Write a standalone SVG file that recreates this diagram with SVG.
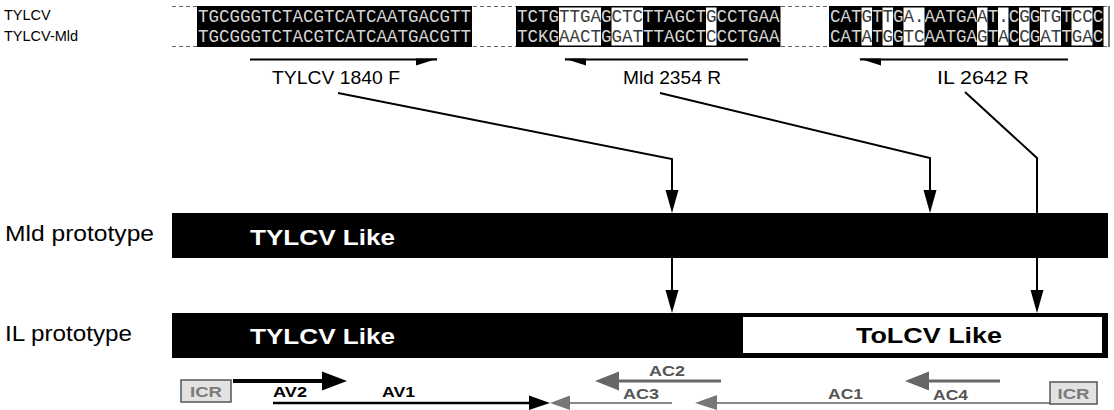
<svg xmlns="http://www.w3.org/2000/svg" width="1114" height="410" viewBox="0 0 1114 410">
<style>
.seq{font-family:"Liberation Mono","DejaVu Sans Mono",monospace;font-size:17.5px}
.b{fill:#d4d4d4}.w{fill:#3a3a3a}
.lab{font-family:"Liberation Sans",Arial,sans-serif;fill:#000}
.bold{font-weight:bold}
.dash{stroke:#666;stroke-width:1.2;stroke-dasharray:4 3;fill:none}
.conn{stroke:#000;stroke-width:2;fill:none}
.blk{fill:#000}
.cell{fill:#fff}
.gl{fill:#555;font-family:"Liberation Sans",Arial,sans-serif;font-weight:bold}
.icr{fill:#e2e2e2;stroke:#555;stroke-width:1.5}
.icrt{fill:#7a7a7a;font-family:"Liberation Sans",Arial,sans-serif;font-weight:bold;font-size:15px}
</style>
<rect width="1114" height="410" fill="#fff"/>

<g id="alignment">
  <text class="lab" x="4" y="20" font-size="14.5">TYLCV</text>
  <text class="lab" x="4" y="41" font-size="14.5">TYLCV-Mld</text>
  <line class="dash" x1="172" y1="6.5" x2="1108" y2="6.5"/>
  <line class="dash" x1="172" y1="46.5" x2="1108" y2="46.5"/>
  <line x1="1109" y1="6" x2="1109" y2="47" stroke="#444" stroke-width="1.5"/>
  <!-- block 1 -->
  <rect class="blk" x="197" y="6" width="275" height="41"/>
  <text class="seq b" x="198" y="21.5">TGCGGGTCTACGTCATCAATGACGTT</text>
  <text class="seq b" x="198" y="42">TGCGGGTCTACGTCATCAATGACGTT</text>
  <!-- block 2 -->
  <rect class="blk" x="516" y="6" width="264.5" height="41"/>
  <rect class="cell" x="559" y="7.5" width="42" height="38"/>
  <rect class="cell" x="611.5" y="7.5" width="31.5" height="38"/>
  <rect class="cell" x="706" y="7.5" width="10.5" height="38"/>
  <text class="seq" x="517" y="21.5"><tspan class="b">TCTG</tspan><tspan class="w">TTGA</tspan><tspan class="b">G</tspan><tspan class="w">CTC</tspan><tspan class="b">TTAGCT</tspan><tspan class="w">G</tspan><tspan class="b">CCTGAA</tspan></text>
  <text class="seq" x="517" y="42"><tspan class="b">TCKG</tspan><tspan class="w">AACT</tspan><tspan class="b">G</tspan><tspan class="w">GAT</tspan><tspan class="b">TTAGCT</tspan><tspan class="w">C</tspan><tspan class="b">CCTGAA</tspan></text>
  <!-- block 3 -->
  <rect class="blk" x="829" y="6" width="274.5" height="41"/>
  <rect class="cell" x="861.5" y="7.5" width="10.5" height="38"/>
  <rect class="cell" x="882.5" y="7.5" width="10.5" height="38"/>
  <rect class="cell" x="903.5" y="7.5" width="21" height="38"/>
  <rect class="cell" x="977" y="7.5" width="10.5" height="38"/>
  <rect class="cell" x="998" y="7.5" width="10.5" height="38"/>
  <rect class="cell" x="1019" y="7.5" width="10.5" height="38"/>
  <rect class="cell" x="1040" y="7.5" width="21" height="38"/>
  <rect class="cell" x="1071.5" y="7.5" width="21" height="38"/>
  <text class="seq" x="830" y="21.5"><tspan class="b">CAT</tspan><tspan class="w">G</tspan><tspan class="b">T</tspan><tspan class="w">T</tspan><tspan class="b">G</tspan><tspan class="w">A.</tspan><tspan class="b">AATGA</tspan><tspan class="w">A</tspan><tspan class="b">T</tspan><tspan class="w">.</tspan><tspan class="b">C</tspan><tspan class="w">G</tspan><tspan class="b">G</tspan><tspan class="w">TG</tspan><tspan class="b">T</tspan><tspan class="w">CC</tspan><tspan class="b">C</tspan></text>
  <text class="seq" x="830" y="42"><tspan class="b">CAT</tspan><tspan class="w">A</tspan><tspan class="b">T</tspan><tspan class="w">G</tspan><tspan class="b">G</tspan><tspan class="w">TC</tspan><tspan class="b">AATGA</tspan><tspan class="w">G</tspan><tspan class="b">T</tspan><tspan class="w">A</tspan><tspan class="b">C</tspan><tspan class="w">C</tspan><tspan class="b">G</tspan><tspan class="w">AT</tspan><tspan class="b">T</tspan><tspan class="w">GA</tspan><tspan class="b">C</tspan></text>
</g>

<g id="primer-1840F">
  <line x1="250" y1="59.5" x2="437" y2="59.5" stroke="#000" stroke-width="2"/>
  <polygon points="416,58.5 438,58.5 416,65.5" fill="#000"/>
  <text class="lab" x="336" y="84" font-size="18" text-anchor="middle" textLength="128" lengthAdjust="spacingAndGlyphs">TYLCV 1840 F</text>
</g>
<g id="primer-2354R">
  <line x1="565" y1="59.5" x2="748" y2="59.5" stroke="#000" stroke-width="2"/>
  <polygon points="564,58.5 586,58.5 586,65.5" fill="#000"/>
  <text class="lab" x="672" y="84" font-size="18" text-anchor="middle" textLength="98" lengthAdjust="spacingAndGlyphs">Mld 2354 R</text>
</g>
<g id="primer-2642R">
  <line x1="860" y1="59.5" x2="1068" y2="59.5" stroke="#000" stroke-width="2"/>
  <polygon points="859,58.5 881,58.5 881,65.5" fill="#000"/>
  <text class="lab" x="983" y="84" font-size="18" text-anchor="middle" textLength="92" lengthAdjust="spacingAndGlyphs">IL 2642 R</text>
</g>

<g id="mld-prototype">
  <text class="lab" x="5" y="241" font-size="22" textLength="149" lengthAdjust="spacingAndGlyphs">Mld prototype</text>
  <rect x="172" y="213" width="936" height="45" fill="#000"/>
  <text class="lab bold" x="250" y="245" font-size="22" style="fill:#fff" textLength="145" lengthAdjust="spacingAndGlyphs">TYLCV Like</text>
</g>

<g id="il-prototype">
  <text class="lab" x="5" y="341" font-size="22" textLength="127" lengthAdjust="spacingAndGlyphs">IL prototype</text>
  <rect x="172" y="313" width="936" height="45" fill="#000"/>
  <text class="lab bold" x="250" y="344" font-size="22" style="fill:#fff" textLength="145" lengthAdjust="spacingAndGlyphs">TYLCV Like</text>
  <rect x="743" y="317" width="359" height="36" fill="#fff"/>
  <text class="lab bold" x="856" y="343" font-size="22" textLength="146" lengthAdjust="spacingAndGlyphs">ToLCV Like</text>
</g>

<g id="connectors">
  <polyline class="conn" points="338,93 672,159 672,192"/>
  <polygon points="665.5,190 678.5,190 672,213" fill="#000"/>
  <polyline class="conn" points="660,93 930,158 930,192"/>
  <polygon points="923.5,190 936.5,190 930,213" fill="#000"/>
  <polyline class="conn" points="965,92 1037,158 1037,292"/>
  <polygon points="1030.5,290 1043.5,290 1037,313" fill="#000"/>
  <line class="conn" x1="672" y1="258" x2="672" y2="292"/>
  <polygon points="665.5,290 678.5,290 672,313" fill="#000"/>
</g>

<g id="icr-left">
  <rect class="icr" x="181" y="380" width="50" height="22"/>
  <text class="icrt" x="206" y="397" text-anchor="middle" textLength="32" lengthAdjust="spacingAndGlyphs">ICR</text>
</g>
<g id="av2">
  <line x1="233" y1="381" x2="325" y2="381" stroke="#000" stroke-width="4"/>
  <polygon points="322,371.5 347,381 322,390.5" fill="#000"/>
  <text class="lab bold" x="273" y="397" font-size="15" textLength="34" lengthAdjust="spacingAndGlyphs">AV2</text>
</g>
<g id="av1">
  <line x1="273" y1="403" x2="532" y2="403" stroke="#000" stroke-width="2.5"/>
  <polygon points="529,395.5 550,403 529,410" fill="#000"/>
  <text class="lab bold" x="382" y="397" font-size="15" textLength="33" lengthAdjust="spacingAndGlyphs">AV1</text>
</g>
<g id="ac3">
  <line x1="672" y1="403" x2="566" y2="403" stroke="#888" stroke-width="2"/>
  <polygon points="570,395.5 550,403 570,410" fill="#777"/>
  <text class="gl" x="623" y="399" font-size="15" textLength="36" lengthAdjust="spacingAndGlyphs">AC3</text>
</g>
<g id="ac2">
  <line x1="721" y1="381" x2="614" y2="381" stroke="#666" stroke-width="3"/>
  <polygon points="619,371.5 595,381 619,390.5" fill="#666"/>
  <text class="gl" x="649" y="376" font-size="15" textLength="36" lengthAdjust="spacingAndGlyphs">AC2</text>
</g>
<g id="ac1">
  <line x1="1050" y1="403" x2="712" y2="403" stroke="#888" stroke-width="2"/>
  <polygon points="717,395 695,403 717,410" fill="#777"/>
  <text class="gl" x="828" y="399" font-size="15" textLength="35" lengthAdjust="spacingAndGlyphs">AC1</text>
</g>
<g id="ac4">
  <line x1="1000" y1="381" x2="924" y2="381" stroke="#666" stroke-width="3"/>
  <polygon points="929,371.5 905,381 929,390.5" fill="#666"/>
  <text class="gl" x="933" y="400" font-size="15" textLength="35" lengthAdjust="spacingAndGlyphs">AC4</text>
</g>
<g id="icr-right">
  <rect class="icr" x="1050" y="382" width="47" height="22"/>
  <text class="icrt" x="1073.5" y="399" text-anchor="middle" textLength="32" lengthAdjust="spacingAndGlyphs">ICR</text>
</g>
</svg>
